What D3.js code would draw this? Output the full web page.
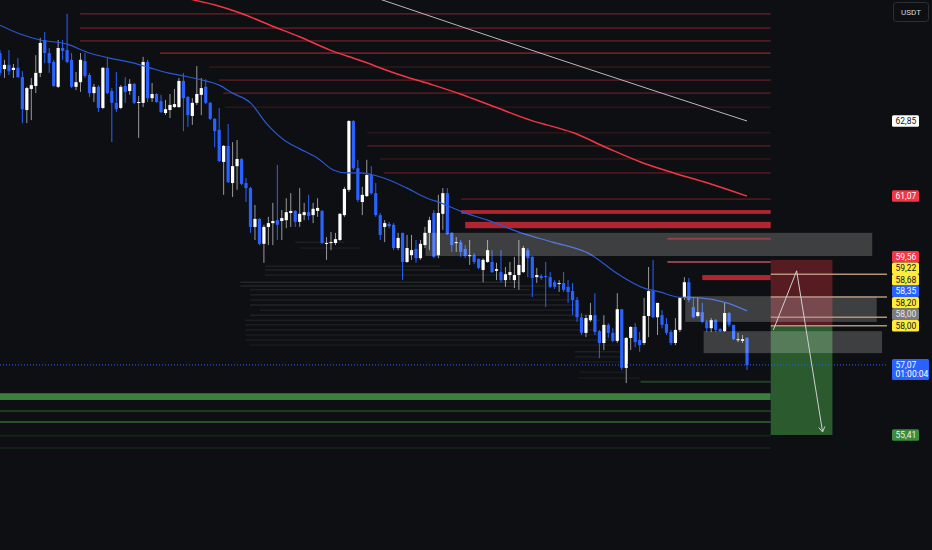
<!DOCTYPE html>
<html>
<head>
<meta charset="utf-8">
<script src="https://cdn.jsdelivr.net/npm/d3@7"></script>
<style>
  html, body { margin: 0; padding: 0; background: #0e0f12; overflow: hidden; }
  svg { display: block; font-family: Roboto, "DejaVu Sans", sans-serif; }
</style>
</head>
<body>
<svg id="chart" width="932" height="550"></svg>
<script>
// one candle per bar, bar 1 sits on the left edge
const opens = [64.46,64.08,64.18,64.06,64.11,63.89,63.11,63.61,63.68,63.99,
64.77,64.46,64.25,63.66,64.58,64.53,64.30,63.66,63.77,64.27,
63.94,63.51,63.66,63.16,64.11,63.56,63.28,63.16,63.68,63.56,
63.73,63.28,63.28,64.25,63.39,63.49,63.32,63.04,63.11,63.18,
63.18,63.80,63.42,62.97,63.28,63.47,63.66,63.28,62.90,62.64,
61.88,62.26,61.38,61.78,61.95,61.38,61.26,60.34,60.53,59.94,
60.34,60.43,60.50,60.48,60.50,60.67,60.72,60.46,60.62,60.69,
60.62,60.72,60.72,59.94,59.96,59.96,60.03,60.62,61.22,62.85,
61.73,60.93,61.07,61.57,61.14,60.62,60.34,60.41,60.39,59.84,
60.20,59.51,59.67,59.82,59.60,59.91,60.20,60.67,59.67,60.65,
61.14,60.20,59.96,59.98,59.82,59.65,59.67,59.58,59.32,59.51,
59.51,59.30,59.27,59.08,59.20,59.08,59.20,59.27,59.79,59.63,
59.15,59.18,59.18,59.15,59.03,58.99,59.01,58.92,58.82,58.61,
58.20,57.83,58.13,58.25,57.87,57.59,58.02,57.83,57.64,58.39,
57.00,57.71,57.97,57.66,57.59,58.23,58.82,58.20,58.25,58.04,
57.85,57.59,57.90,58.66,59.03,58.44,58.23,58.32,58.09,57.94,
58.13,57.92,57.87,58.30,58.02,57.66,57.64,57.71];
const highs = [64.53,64.30,64.53,64.20,64.34,64.03,63.66,63.87,64.41,64.82,
64.96,64.58,64.30,64.77,64.77,65.39,64.46,64.01,64.46,64.46,
63.99,63.73,63.70,64.13,64.37,63.63,64.01,63.70,63.89,63.84,
63.75,63.44,64.37,64.30,63.75,63.51,63.47,63.35,63.49,63.61,
63.87,63.99,63.44,63.39,64.15,63.87,63.84,63.30,62.92,63.16,
62.28,62.78,62.35,62.40,61.97,61.50,61.29,60.86,60.55,60.39,
60.58,60.91,61.81,60.74,61.02,61.14,60.74,61.26,60.91,61.10,
60.91,61.02,60.74,60.10,60.22,60.20,60.67,61.29,62.87,62.87,
61.93,61.29,61.93,61.78,61.38,60.67,60.50,60.46,60.43,60.20,
60.20,60.15,60.15,60.03,60.03,60.34,60.58,60.74,61.10,61.26,
61.26,60.22,60.10,60.03,59.91,60.03,59.72,59.60,59.60,60.03,
59.79,59.49,59.79,59.39,59.51,59.63,60.03,59.89,59.84,59.65,
59.37,59.22,59.51,59.27,59.08,59.08,59.27,59.08,59.01,58.68,
58.30,58.25,58.54,58.77,57.90,58.25,58.06,57.94,58.77,58.39,
57.73,57.99,58.06,57.85,58.66,59.39,59.56,58.54,58.37,58.18,
57.90,58.18,58.68,59.15,59.13,58.68,58.66,58.54,58.13,58.18,
58.16,57.94,58.54,58.32,58.02,57.83,57.78,57.73];
const lows = [63.92,63.87,63.94,63.87,63.87,62.80,62.80,62.87,63.51,63.89,
64.22,63.99,63.66,63.63,64.30,64.22,63.63,63.58,63.54,63.87,
63.42,63.30,63.06,63.13,63.49,62.35,63.06,63.13,63.28,63.47,
63.25,62.45,63.18,63.30,63.30,63.28,63.04,62.99,62.92,63.16,
63.16,62.61,62.71,62.76,63.23,62.99,63.25,62.87,62.23,61.88,
61.10,61.38,61.05,61.22,61.33,60.93,60.20,60.03,59.91,59.49,
59.91,59.91,60.03,60.03,60.31,60.34,60.34,60.34,60.50,60.50,
60.43,60.58,59.94,59.56,59.79,59.91,60.01,60.58,61.17,61.69,
60.93,60.62,61.05,61.10,60.58,60.03,59.98,60.31,59.79,59.79,
59.08,59.49,59.56,59.49,59.56,59.84,59.79,59.60,59.60,60.27,
60.15,59.75,59.75,59.63,59.60,59.44,59.46,59.34,59.03,59.49,
59.25,59.08,59.03,58.92,59.08,58.89,58.85,59.25,59.15,58.68,
59.01,59.08,58.44,58.89,58.87,58.80,58.80,58.54,58.25,58.09,
57.78,57.73,58.09,57.78,57.23,57.42,57.71,57.61,57.59,56.95,
56.64,57.42,57.49,57.38,57.54,57.73,58.18,57.78,57.94,57.78,
57.54,57.54,57.85,58.61,58.56,58.18,58.20,58.06,57.85,57.85,
57.85,57.85,57.85,57.97,57.66,57.61,57.59,56.95];
const closes = [63.99,64.18,64.03,64.11,63.89,63.13,63.63,63.70,63.99,64.70,
64.46,64.22,63.68,64.58,64.51,64.25,63.66,63.77,64.30,63.92,
63.51,63.66,63.16,64.11,63.51,63.28,63.13,63.66,63.54,63.73,
63.28,63.30,64.25,63.39,63.49,63.30,63.06,63.13,63.23,63.25,
63.80,63.39,62.99,63.28,63.49,63.63,63.28,62.90,62.61,61.90,
62.26,61.40,61.78,61.95,61.36,61.26,60.34,60.53,59.94,60.34,
60.43,60.48,60.39,60.55,60.69,60.72,60.46,60.65,60.69,60.60,
60.77,60.79,59.96,59.96,59.98,60.05,60.65,61.24,62.85,61.73,
60.98,61.10,61.57,61.14,60.62,60.15,60.43,60.36,59.84,60.08,
59.51,59.84,59.79,59.60,59.94,60.20,60.50,59.63,60.67,61.14,
60.17,59.91,59.98,59.75,59.65,59.67,59.51,59.37,59.56,59.79,
59.27,59.34,59.08,59.22,59.27,59.20,59.44,59.84,59.60,59.13,
59.20,59.13,59.15,58.92,58.92,59.01,58.85,58.80,58.61,58.20,
57.83,58.18,58.25,57.85,57.59,58.02,57.83,57.64,58.39,57.00,
57.71,57.97,57.61,57.54,58.23,58.82,58.20,58.54,58.02,57.83,
57.59,57.90,58.66,59.03,58.61,58.20,58.32,58.09,57.94,58.13,
57.90,57.87,58.30,58.02,57.68,57.68,57.68,57.07];

// moving averages, read as (bar, price) points
const blueMaBar = [1,5.5,10,16,20.5,25.5,31,34.5,38.5,42,45.5,50,53,57,60.5,64.5,68,72,75.5,78.5,81.5,84.5,87.5,92,96.5,99.5,104.5,110,117.5,124.5,132.5,139.5,145,148.5,152.5,157.5,163.5,168];
const blueMaVal = [65.12,64.91,64.77,64.67,64.48,64.34,64.22,64.11,63.99,63.92,63.84,63.70,63.51,63.28,62.80,62.40,62.19,61.97,61.69,61.62,61.62,61.57,61.47,61.26,61.02,60.91,60.69,60.50,60.20,59.98,59.72,59.20,58.89,58.80,58.68,58.66,58.54,58.35];
const redMaBar = [41.3,44.2,49.1,54.7,61.4,68.1,74.8,81.1,90.5,97.9,103.9,111.7,119.6,129.2,136.8,144.2,151.6,159.2,168];
const redMaVal = [65.81,65.72,65.60,65.41,65.12,64.84,64.53,64.30,63.94,63.70,63.49,63.18,62.87,62.57,62.21,61.88,61.62,61.38,61.07];
const grayMaBar = [80,126,168];
const grayMaVal = [65.95,64.31,62.85];

// thin resistance levels: price, first bar, strength
const resPrice = [65.39,65.05,64.75,64.46,64.13,63.82,63.51,63.18,62.57,62.26,61.95,61.62,61.00];
const resStart = [18.9,18.9,18.9,36.8,47.8,50,50.9,51.3,83.1,83.1,86,86.9,104.1];
const resStrength = [0.3,0.3,0.3,0.42,0.12,0.28,0.28,0.12,0.12,0.26,0.12,0.26,0.26];
// heavy supply bands: top, bottom, first bar
const supplyTop = [60.74,60.46,59.20];
const supplyBottom = [60.65,60.31,59.08];
const supplyStart = [104.1,105,158];
const zoneLinePrice = [60.06,59.51];
const zoneLineStart = 150.2;
// demand
const demandTop = 56.40, demandBottom = 56.24;
const supPrice = [55.98,55.72,55.39,55.10,56.67];
const supStart = [0,0,0,0,144.2];
const supStrength = [0.28,0.42,0.12,0.1,0.32];
// gray zones: top, bottom, first bar, last bar
const zoneTop = [60.20,58.70,57.87];
const zoneBottom = [59.65,58.09,57.35];
const zoneFrom = [96.1,154.2,158.3];
const zoneTo = [196,197,198.2];
// short position
const entry = 58.00, stop = 59.56, target = 55.41;
const posFrom = 173.3, posTo = 187.1;
const pathBar = [173.9,179.1,184.9];
const pathVal = [57.90,59.30,55.48];
const markPrice = [59.22,58.68,58.20,58.00];
const lastPrice = 57.07, countdown = "01:00:04";
// faint volume streaks: price, from bar, to bar, intensity
const streakPrice = [59.98,59.84,59.41,59.32,59.20,59.03,58.94,58.85,58.73,58.61,58.49,58.37,58.25,58.13,58.02,57.90,57.78,57.66,57.54,57.38,57.26,57.14,56.90,56.76];
const streakFrom = [67,68,60.2,60.2,60.2,54.7,54.7,56.9,56.9,56.9,56.9,59.1,56.9,55.8,55.8,55.8,55.8,55.8,56.9,129.5,129.5,130.7,130.7,130.2];
const streakTo = [78,81.5,99.4,106.1,112.8,117.3,122.8,119.5,126.2,129.5,130.7,129.5,132.9,135.1,132.9,134,135.1,137.4,139.6,139.6,140.7,140.7,140.7,144.1];
const streakLevel = [0.1,0.08,0.1,0.12,0.1,0.14,0.12,0.1,0.12,0.1,0.12,0.1,0.12,0.1,0.09,0.1,0.08,0.09,0.07,0.1,0.09,0.08,0.08,0.07];
// price scale tags
const tagPrices = [62.85,61.07,59.56,59.22,58.68,58.35,58.20,58.00,58.00,57.07,55.41];
const tagKinds = ["ma200","ma100","stop","level","level","ma","level","entry","level","last","target"];

const plotRight = 887;
const x = d3.scaleLinear().domain([1, 168]).range([0, 747]);
const y = d3.scaleLinear().domain([55.41, 62.85]).range([435, 121]);
const fmt = v => d3.format(".2f")(v).replace(".", ",");

const svg = d3.select("#chart");
svg.append("rect").attr("width", 932).attr("height", 550).attr("fill", "#0e0f12");
svg.append("defs").append("clipPath").attr("id", "plot")
  .append("rect").attr("width", plotRight).attr("height", 550);
const plot = svg.append("g").attr("clip-path", "url(#plot)");

// volume streaks
plot.append("g").selectAll("line").data(streakPrice).enter().append("line")
  .attr("x1", (d, i) => x(streakFrom[i])).attr("x2", (d, i) => x(streakTo[i]))
  .attr("y1", d => y(d)).attr("y2", d => y(d))
  .attr("stroke", "#ffffff").attr("stroke-opacity", (d, i) => streakLevel[i]);

// resistance levels
plot.append("g").selectAll("line").data(resPrice).enter().append("line")
  .attr("x1", (d, i) => x(resStart[i])).attr("x2", x(posFrom))
  .attr("y1", d => y(d)).attr("y2", d => y(d))
  .attr("stroke", "#f23645").attr("stroke-width", 1.8)
  .attr("stroke-opacity", (d, i) => resStrength[i]);

plot.append("g").selectAll("rect").data(supplyTop).enter().append("rect")
  .attr("x", (d, i) => x(supplyStart[i]))
  .attr("width", (d, i) => x(posFrom) - x(supplyStart[i]))
  .attr("y", d => y(d))
  .attr("height", (d, i) => y(supplyBottom[i]) - y(d))
  .attr("fill", "#b0252f");

// demand levels
plot.append("rect").attr("x", x(0)).attr("width", x(posFrom) - x(0))
  .attr("y", y(demandTop)).attr("height", y(demandBottom) - y(demandTop))
  .attr("fill", "#3b7f3d");
plot.append("g").selectAll("line").data(supPrice).enter().append("line")
  .attr("x1", (d, i) => x(supStart[i])).attr("x2", x(posFrom))
  .attr("y1", d => y(d)).attr("y2", d => y(d))
  .attr("stroke", "#4caf50").attr("stroke-width", 2)
  .attr("stroke-opacity", (d, i) => supStrength[i]);

// candles
const candles = opens.map((o, i) => ({ bar: i + 1, o, h: highs[i], l: lows[i], c: closes[i] }));
const cg = plot.append("g");
cg.selectAll("line").data(candles).enter().append("line")
  .attr("x1", d => x(d.bar)).attr("x2", d => x(d.bar))
  .attr("y1", d => y(d.h)).attr("y2", d => y(d.l))
  .attr("stroke", d => d.c >= d.o ? "#9a9a9a" : "#2962ff").attr("stroke-width", 1);
cg.selectAll("rect").data(candles).enter().append("rect")
  .attr("x", d => x(d.bar) - 1.6).attr("width", 3.2)
  .attr("y", d => y(Math.max(d.o, d.c)))
  .attr("height", d => Math.max(1, Math.abs(y(d.o) - y(d.c))))
  .attr("fill", d => d.c >= d.o ? "#ffffff" : "#2962ff");

// moving averages
const maLine = (bars, vals) => d3.line().curve(d3.curveMonotoneX)
  .x((d, i) => x(bars[i])).y(d => y(d))(vals);
plot.append("path").attr("d", maLine(grayMaBar, grayMaVal))
  .attr("fill", "none").attr("stroke", "#b8b8bc").attr("stroke-width", 1);
plot.append("path").attr("d", maLine(redMaBar, redMaVal))
  .attr("fill", "none").attr("stroke", "#f23645").attr("stroke-width", 1.5);
plot.append("path").attr("d", maLine(blueMaBar, blueMaVal))
  .attr("fill", "none").attr("stroke", "#2a58d6").attr("stroke-width", 1.2);

// short position boxes
plot.append("rect").attr("x", x(posFrom)).attr("width", x(posTo) - x(posFrom))
  .attr("y", y(stop)).attr("height", y(entry) - y(stop)).attr("fill", "#561c22");
plot.append("rect").attr("x", x(posFrom)).attr("width", x(posTo) - x(posFrom))
  .attr("y", y(entry)).attr("height", y(target) - y(entry)).attr("fill", "#2b5a2f");

// gray zones
plot.append("g").selectAll("rect").data(zoneTop).enter().append("rect")
  .attr("x", (d, i) => x(zoneFrom[i])).attr("width", (d, i) => x(zoneTo[i]) - x(zoneFrom[i]))
  .attr("y", d => y(d)).attr("height", (d, i) => y(zoneBottom[i]) - y(d))
  .attr("fill", "#ffffff").attr("fill-opacity", 0.2);
plot.append("g").selectAll("line").data(zoneLinePrice).enter().append("line")
  .attr("x1", x(zoneLineStart)).attr("x2", x(posFrom))
  .attr("y1", d => y(d)).attr("y2", d => y(d))
  .attr("stroke", "#93404b").attr("stroke-width", 2);

// marked levels
plot.append("g").selectAll("line").data(markPrice).enter().append("line")
  .attr("x1", x(posFrom)).attr("x2", plotRight)
  .attr("y1", d => y(d)).attr("y2", d => y(d))
  .attr("stroke", "#b39479").attr("stroke-width", 1.5);

// projected path
const pts = pathBar.map((b, i) => [x(b), y(pathVal[i])]);
plot.append("path").attr("d", d3.line()(pts))
  .attr("fill", "none").attr("stroke", "#cfcfcf").attr("stroke-width", 1);
const tip = pts[pts.length - 1], prev = pts[pts.length - 2];
const ang = Math.atan2(tip[1] - prev[1], tip[0] - prev[0]);
const head = [ang + 2.6, ang - 2.6].map(a => [tip[0] + 6 * Math.cos(a), tip[1] + 6 * Math.sin(a)]);
plot.append("path").attr("d", d3.line()([head[0], tip, head[1]]))
  .attr("fill", "none").attr("stroke", "#cfcfcf").attr("stroke-width", 1);

// last price line
plot.append("line").attr("x1", 0).attr("x2", plotRight)
  .attr("y1", y(lastPrice)).attr("y2", y(lastPrice))
  .attr("stroke", "#2962ff").attr("stroke-dasharray", "1,2");

// price scale tags
const tagStyle = {
  ma200: ["#ffffff", "#131722"], ma100: ["#f23645", "#ffffff"], stop: ["#f23645", "#ffffff"],
  level: ["#ffeb3b", "#131722"], ma: ["#2962ff", "#ffffff"], entry: ["#7b7c80", "#e6e6e6"],
  last: ["#2962ff", "#ffffff"], target: ["#3d8a41", "#e8f5e9"]
};
const tagH = 11.5;
const tags = tagPrices.map((p, k) => ({ p, kind: tagKinds[k], ord: k,
  h: tagKinds[k] === "last" ? 21 : tagH }));
tags.forEach(t => t.top = y(t.p) - (t.kind === "last" ? 6 : tagH / 2));
tags.sort((a, b) => a.top - b.top || a.ord - b.ord);
for (let k = tags.length - 2; k >= 0; k--) {
  tags[k].top = Math.min(tags[k].top, tags[k + 1].top - tags[k].h);
}
const tg = svg.append("g").selectAll("g").data(tags).enter().append("g");
tg.append("rect").attr("x", 892).attr("y", d => d.top)
  .attr("width", d => d.kind === "last" ? 37 : 27).attr("height", d => d.h)
  .attr("rx", 1.5).attr("fill", d => tagStyle[d.kind][0]);
tg.append("text").attr("x", 895.5).attr("y", d => d.top + 8.6)
  .attr("font-size", 8.5).attr("fill", d => tagStyle[d.kind][1])
  .text(d => fmt(d.p));
tg.filter(d => d.kind === "last").append("text").attr("x", 895.5).attr("y", d => d.top + 18)
  .attr("font-size", 8.5).attr("fill", "#ffffff").text(countdown);

// currency button
svg.append("rect").attr("x", 893.5).attr("y", 2.5).attr("width", 35).attr("height", 19)
  .attr("rx", 3).attr("fill", "#0e0f12").attr("stroke", "#2c2f36");
svg.append("text").attr("x", 911).attr("y", 15).attr("text-anchor", "middle")
  .attr("font-size", 8).attr("fill", "#d1d4dc").text("USDT");
</script>
</body>
</html>
